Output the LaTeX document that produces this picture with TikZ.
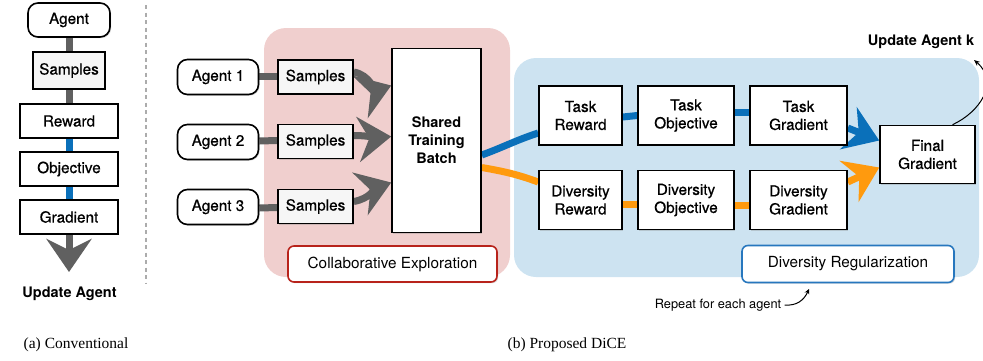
\documentclass[tikz,border=0pt]{standalone}
\usepackage{fontspec}
\setmainfont{Liberation Serif}
\setsansfont{TeX Gyre Heros}
\newfontfamily\medsans[FakeBold=0.6]{TeX Gyre Heros}
\usetikzlibrary{arrows.meta,shadows}
\pgfdeclarelayer{back}
\pgfdeclarelayer{mid}
\pgfsetlayers{back,mid,main}
\definecolor{pinkreg}{HTML}{F0CFCE}
\definecolor{bluereg}{HTML}{CDE3F1}
\definecolor{cblue}{HTML}{0A70BA}
\definecolor{corange}{HTML}{FF9A0E}
\definecolor{cgray}{HTML}{606060}
\definecolor{cred}{HTML}{B8231B}
\definecolor{cbord}{HTML}{2777BE}
\newcommand{\boxfont}{\medsans\fontsize{15.3}{18}\selectfont}
\newcommand{\tagfont}{\sffamily\fontsize{15.3}{18}\selectfont}
\newcommand{\boldboxfont}{\sffamily\bfseries\fontsize{14.5}{18}\selectfont}
\tikzset{
  box/.style={draw=black, line width=1.6pt, fill=white, inner sep=0pt, align=center, font=\boxfont,
    drop shadow={opacity=0.3, shadow xshift=1.2pt, shadow yshift=-1.2pt}},
  agentbox/.style={box, rounded corners=10pt, minimum width=81pt, minimum height=35pt},
  sampbox/.style={box, fill=gray!7},
  wbox/.style={box, minimum width=98pt, minimum height=34pt},
  tbox/.style={box, minimum height=59pt},
  tagbox/.style={draw, line width=1.6pt, fill=white, rounded corners=6pt, inner sep=0pt, font=\tagfont,
    drop shadow={opacity=0.3, shadow xshift=1.2pt, shadow yshift=-1.2pt}},
  gconn/.style={draw=cgray, line width=7pt},
  bconn/.style={draw=cblue, line width=7pt},
  oconn/.style={draw=corange, line width=7pt},
  bigtip/.style={-{Stealth[length=33pt,width=45pt,inset=11pt]}},
  captxt/.style={font=\fontsize{15.5}{18}\selectfont},
}
\begin{document}
\begin{tikzpicture}[x=1pt,y=-1pt]
\useasboundingbox (0,0) rectangle (983,360);

% ---------- left panel ----------
\node[agentbox, minimum width=82pt, minimum height=34pt] (a0) at (69,20) {Agent};
\node[sampbox, minimum width=72pt, minimum height=37pt] (s0) at (69,70.5) {Samples};
\node[wbox] (r0) at (69,121) {Reward};
\node[wbox] (o0) at (69,169) {Objective};
\node[wbox] (g0) at (69,217) {Gradient};
\coordinate (dtip) at (69,272);
\node[font=\boldboxfont] (ua) at (69.5,294) {Update Agent};
\node[captxt] (capa) at (76,345) {(a) Conventional};

\draw[gray!65, line width=1.8pt, dash pattern=on 4pt off 3.5pt] (146,5) -- (146,284);

% ---------- right panel nodes ----------
\node[agentbox] (a1) at (218,77) {Agent 1};
\node[agentbox] (a2) at (218,142) {Agent 2};
\node[agentbox] (a3) at (218,207) {Agent 3};
\node[sampbox, minimum width=75pt, minimum height=34pt] (s1) at (315.5,77) {Samples};
\node[sampbox, minimum width=75pt, minimum height=34pt] (s2) at (315.5,141.5) {Samples};
\node[sampbox, minimum width=75pt, minimum height=34pt] (s3) at (315.5,206.5) {Samples};
\node[box, font=\boldboxfont, minimum width=89pt, minimum height=184pt] (batch) at (436.5,140.5) {Shared\\Training\\Batch};
\node[tagbox, draw=cred, minimum width=209pt, minimum height=36pt] (collab) at (392.5,264) {Collaborative Exploration};

\node[tbox, minimum width=83pt] (tr) at (580.5,115.5) {Task\\Reward};
\node[tbox, minimum width=96pt] (to) at (686,115.5) {Task\\Objective};
\node[tbox, minimum width=97pt] (tg) at (798.5,115.5) {Task\\Gradient};
\node[tbox, minimum width=83pt] (dr) at (580.5,200) {Diversity\\Reward};
\node[tbox, minimum width=96pt] (do) at (686,200) {Diversity\\Objective};
\node[tbox, minimum width=97pt] (dg) at (798.5,200) {Diversity\\Gradient};
\node[tbox, minimum width=95pt, minimum height=58pt] (fg) at (927.5,154.5) {Final\\Gradient};
\node[tagbox, draw=cbord, minimum width=212pt, minimum height=37pt] (divreg) at (848,264) {Diversity Regularization};

\node[font=\boldboxfont] (uak) at (921,42) {Update Agent k};
\coordinate (uktip) at (974,60);
\node[font=\sffamily\fontsize{12.8}{15}\selectfont] (rep) at (718,305) {Repeat for each agent};
\coordinate (reptip) at (809,289);
\node[captxt] (capb) at (567,345) {(b) Proposed DiCE};

% ---------- regions ----------
\begin{pgfonlayer}{back}
\fill[pinkreg, rounded corners=22pt] (264,28) rectangle (510,277);
\fill[bluereg, rounded corners=22pt] (514,58) rectangle (979,277);
\end{pgfonlayer}

% ---------- connectors ----------
\begin{pgfonlayer}{mid}
\draw[gconn] (a0) -- (s0);
\draw[gconn] (s0) -- (r0);
\draw[bconn] (r0) -- (o0);
\draw[bconn] (o0) -- (g0);
\draw[gconn, bigtip] (g0.south) -- (dtip);

\draw[gconn] ([yshift=1pt]a1.east) -- ([yshift=1pt]s1.west);
\draw[gconn] ([yshift=1pt]a2.east) -- ([yshift=1pt]s2.west);
\draw[gconn] ([yshift=-1pt]a3.east) -- ([yshift=-1pt]s3.west);
\draw[gconn, bigtip] ([yshift=5pt]s1.east) to[out=-10,in=200] ([yshift=55pt]batch.west);
\draw[gconn, bigtip] ([yshift=6pt]s2.east) to[out=0,in=185] ([yshift=4pt]batch.west);
\draw[gconn, bigtip] ([yshift=5pt]s3.east) to[out=10,in=200] ([yshift=-42pt]batch.west);

\draw[bconn] ([yshift=-14.5pt]batch.east) to[out=20,in=198] ([yshift=-17.5pt]tr.west);
\draw[oconn] ([yshift=-27pt]batch.east) to[out=-10,in=160] ([yshift=18pt]dr.west);
\draw[bconn] ([yshift=-1.5pt]tr.east) -- (to.west);
\draw[bconn] ([yshift=3pt]to.east) -- ([yshift=3pt]tg.west);
\draw[oconn] ([yshift=-4pt]dr.east) -- ([yshift=-4pt]do.west);
\draw[oconn] ([yshift=-5pt]do.east) -- ([yshift=-5pt]dg.west);
\draw[bconn, bigtip] ([yshift=-12.5pt]tg.east) -- ([yshift=14pt]fg.west);
\draw[oconn, bigtip] ([yshift=18pt]dg.east) -- ([yshift=-13pt]fg.west);
\end{pgfonlayer}

\draw[line width=1pt, -{Stealth[length=6pt,width=5pt]}] ([xshift=25pt]fg.north) .. controls (980,112) and (1000,82) .. (uktip);
\draw[line width=1pt, -{Stealth[length=5pt,width=5pt]}] (rep.east) .. controls (797,306) and (804,300) .. (reptip);
\end{tikzpicture}
\end{document}
